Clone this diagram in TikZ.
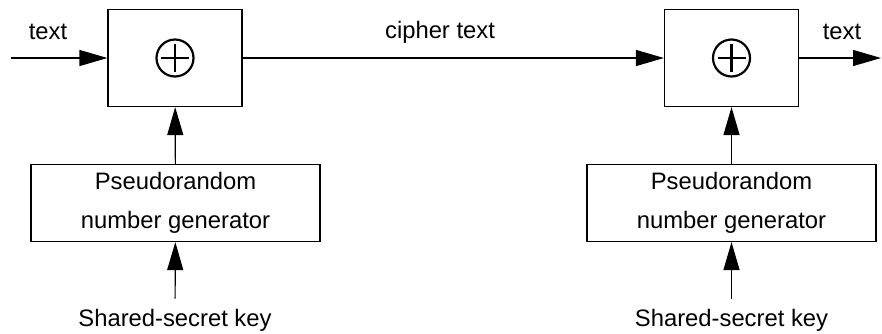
\documentclass[tikz,border=0pt]{standalone}
\usepackage{fontspec}
\setmainfont{Liberation Sans}
\usetikzlibrary{arrows.meta}

\tikzset{
  xorbox/.style={draw, line width=0.6pt, minimum width=67pt, minimum height=48.5pt, inner sep=0pt},
  xorsign/.style={circle, draw, line width=1.1pt, minimum size=18.5pt, inner sep=0pt,
    path picture={\draw[line width=1.1pt] (path picture bounding box.center) +(-7pt,0) -- +(7pt,0) +(0,-7pt) -- +(0,7pt);}},
  genbox/.style={draw, line width=0.6pt, minimum width=144.5pt, minimum height=38.5pt, align=center,
    font=\fontsize{11.9}{19.5}\selectfont},
  lbl/.style={font=\fontsize{11.9}{14}\selectfont, inner sep=0pt},
  keylbl/.style={lbl, inner sep=5pt},
  flow/.style={-{Triangle[length=14pt,width=8pt]}, line width=0.6pt}
}

\begin{document}
\begin{tikzpicture}[x=0.5pt, y=-0.5pt]

  \useasboundingbox (0,0) rectangle (882,333);

  % xor boxes
  \node[xorbox] (enc) at (175,58) {};
  \node[xorsign] (encsign) at (enc) {};
  \node[xorbox] (dec) at (731.5,58) {};
  \node[xorsign] (decsign) at (dec) {};

  % generators
  \node[genbox] (encgen) at (175.5,203) {Pseudorandom\\number generator};
  \node[genbox] (decgen) at (731.5,203) {Pseudorandom\\number generator};

  % keys
  \node[keylbl] (enckey) at (175,320) {Shared-secret key};
  \node[keylbl] (deckey) at (731.5,320) {Shared-secret key};

  % labels on the line
  \coordinate (in) at (11,58);
  \coordinate (out) at (881,58);
  \node[lbl] (intext) at (48,32) {text};
  \node[lbl] (ciphertext) at (440,32) {cipher text};
  \node[lbl] (outtext) at (842,32) {text};

  \draw[flow] (in) -- (enc);
  \draw[flow] (enc) -- (dec);
  \draw[flow] (dec) -- (out);

  \draw[flow] (encgen) -- (enc);
  \draw[flow] (decgen) -- (dec);
  \draw[flow] (enckey) -- (encgen);
  \draw[flow] (deckey) -- (decgen);

\end{tikzpicture}
\end{document}
